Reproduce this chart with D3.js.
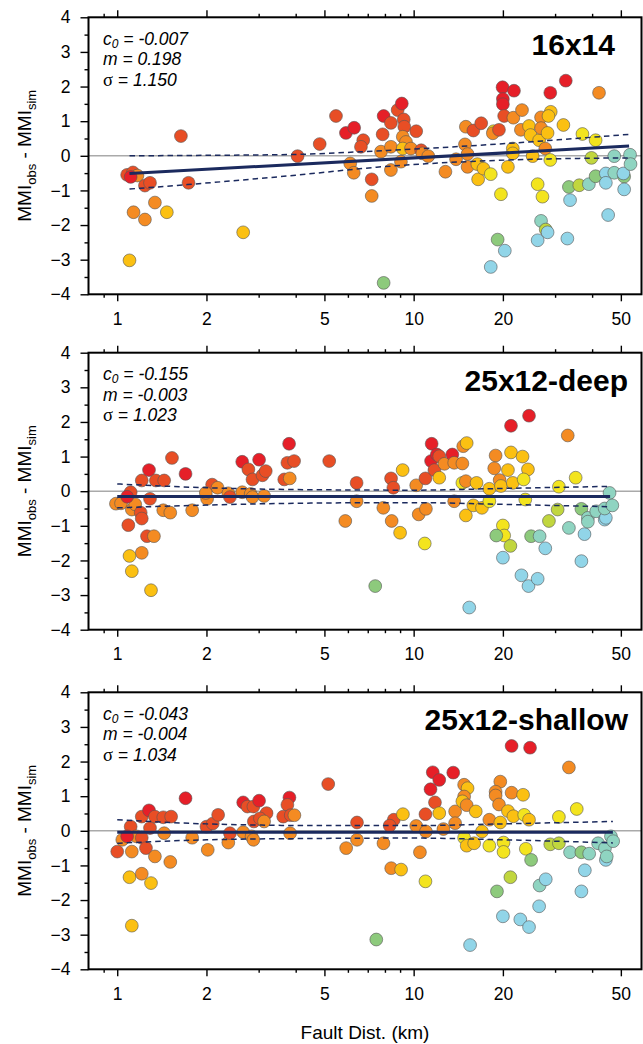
<!DOCTYPE html>
<html>
<head>
<meta charset="utf-8">
<script src="https://cdn.jsdelivr.net/npm/d3@7"></script>
<style>
  body { margin: 0; background: #fff; }
  svg { display: block; font-family: "Liberation Sans", Arial, Helvetica, sans-serif; }
</style>
</head>
<body>
<svg width="643" height="1044"></svg>
<script>
// tick values
const xMajor = [1, 2, 5, 10, 20, 50]
const xMinor = [0.9, 3, 4, 6, 7, 8, 9, 30, 40]
const yMajor = [-4, -3, -2, -1, 0, 1, 2, 3, 4]
const yMinor = [-3.5, -2.5, -1.5, -0.5, 0.5, 1.5, 2.5, 3.5]

const titles = ['16x14', '25x12-deep', '25x12-shallow']

// fit stats [c0, m, sigma]
const stats16x14 = ['-0.007', '0.198', '1.150']
const statsDeep = ['-0.155', '-0.003', '1.023']
const statsShallow = ['-0.043', '-0.004', '1.034']

// fit lines (dist, value)
const fit16x14 = [[1.1, -0.51], [53.3, 0.28]]
const fitDeep = [[1.0, -0.155], [46, -0.155]]
const fitShallow = [[1.0, -0.04], [47, -0.04]]

// confidence bands
const band16x14X = [1.1, 1.73, 4.0, 7.5, 21, 53.3]
const band16x14Up = [0.0, 0.01, 0.04, 0.14, 0.36, 0.62]
const band16x14Lo = [-0.96, -0.83, -0.56, -0.33, -0.12, -0.06]
const bandDeepX = [1.0, 2, 5, 10, 20, 46]
const bandDeepUp = [0.21, 0.10, 0.04, 0.03, 0.08, 0.14]
const bandDeepLo = [-0.48, -0.40, -0.34, -0.33, -0.38, -0.45]
const bandShallowX = [1.0, 2, 5, 10, 20, 47]
const bandShallowUp = [0.32, 0.20, 0.15, 0.15, 0.20, 0.27]
const bandShallowLo = [-0.36, -0.26, -0.22, -0.21, -0.26, -0.35]

// stations: [fault dist km, residual, colour class]
const pts16x14 = [
  [1.08,-0.55,1],[1.13,-0.48,1],[1.17,-0.57,2],[1.24,-0.86,1],[1.29,-0.78,1],[1.64,0.57,1],
  [1.74,-0.78,1],[1.34,-1.35,2],[1.135,-1.63,2],[1.24,-1.84,2],[1.47,-1.63,3],[1.10,-3.02,3],
  [2.66,-2.21,3],[4.06,-0.01,1],[4.82,0.34,1],[1.11,-0.61,0],
  [5.47,1.15,1],[5.91,0.66,0],[6.3,0.81,0],[6.76,0.45,1],[6.64,0.26,1],[6.11,-0.22,2],
  [6.28,-0.49,2],[7.22,-0.68,1],[7.22,-1.16,2],[7.92,1.15,0],[7.86,0.62,1],[7.76,0.12,2],
  [8.38,0.95,1],[8.83,1.32,1],[9.12,1.51,0],[9.26,1.05,1],[9.3,0.84,1],[8.38,0.26,2],
  [8.38,-0.41,2],[9.19,0.55,2],[9.42,0.40,2],[9.19,0.21,3],[9.06,-0.17,2],[9.79,0.21,2],
  [10.2,0.71,1],[10.6,0.16,1],[10.7,0.07,2],[11.2,-0.01,2],[12.8,-0.46,2],[13.9,-0.10,2],
  [15.0,0.84,2],[14.9,0.33,2],[15.2,0.05,2],[15.2,-0.32,2],[15.9,0.73,1],[16.9,0.94,1],
  [16.4,-0.24,3],[16.5,-0.68,3],[17.2,-0.37,3],[18.2,-0.53,4],[18.6,0.71,4],[18.5,0.65,2],
  [19.4,0.75,1],[19.95,1.98,0],[20.0,1.64,0],[20.0,1.49,0],[21.8,1.88,0],[20.2,1.15,1],
  [21.7,1.10,2],[23.2,1.32,2],[21.6,0.21,3],[21.6,0.07,3],[20.8,-0.32,3],[19.7,-1.11,4],
  [23.0,0.75,2],[24.5,0.86,3],[24.8,0.60,3],[26.5,0.45,3],[25.2,-0.01,3],[26.9,1.11,2],
  [26.9,0.80,2],[29.0,1.27,3],[28.5,1.15,3],[28.3,0.66,3],[27.8,0.21,2],[28.9,-0.12,4],
  [26.2,-0.82,4],[27.2,-1.18,4],[26.9,-1.88,7],[27.9,-2.13,5],[28.3,-2.21,8],[26.2,-2.44,8],
  [32.0,0.89,3],[32.6,2.17,0],[28.9,1.82,0],[33.0,-2.39,8],[33.4,-0.90,6],[33.7,-1.28,8],
  [36.2,-0.85,5],[37.1,0.63,4],[39.0,-0.82,7],[39.8,-0.06,5],[41.1,0.45,4],[42.2,1.82,2],
  [41.1,-0.59,6],[44.5,-0.51,8],[44.5,-0.78,8],[45.3,-1.71,8],[47.5,-0.01,7],[47.5,-0.49,7],
  [51.3,-0.60,6],[51.0,-0.51,8],[51.3,-0.97,8],[53.7,0.03,7],[53.9,-0.24,7],
  [19.2,-2.42,6],[20.3,-2.74,8],[18.2,-3.21,8],[7.92,-3.67,6]
]

const ptsDeep = [
  [0.99,-0.36,2],[1.03,-0.35,2],[1.11,-0.03,1],[1.09,-0.98,1],[1.12,-0.53,2],[1.15,-0.38,2],
  [1.21,0.31,1],[1.28,0.61,0],[1.29,-0.22,1],[1.20,-0.62,1],[1.21,-0.79,1],[1.26,-1.30,1],
  [1.33,-1.30,2],[1.21,-1.78,2],[1.10,-1.87,3],[1.12,-2.31,3],[1.30,-2.86,3],[1.35,0.31,1],
  [1.44,0.31,1],[1.53,0.96,1],[1.43,-0.55,2],[1.51,-0.62,2],[1.70,0.50,0],[1.79,-0.55,2],
  [2.01,-0.22,2],[2.09,0.19,1],[2.18,0.10,2],[1.99,-0.05,2],[2.37,-0.06,2],[2.40,-0.17,1],
  [2.64,0.85,0],[2.77,0.63,1],[2.86,0.34,1],[3.01,0.91,0],[3.09,0.46,1],[3.17,0.58,1],
  [2.64,-0.03,2],[2.82,-0.08,2],[2.86,-0.17,2],[3.13,-0.14,2],[3.66,0.34,1],[3.80,1.37,0],
  [3.75,0.82,1],[3.95,0.87,1],[3.82,0.37,2],[1.08,-0.16,0],
  [5.19,0.87,1],[5.88,-0.86,2],[6.42,0.24,1],[6.42,-0.29,2],[7.90,-0.48,2],[7.42,-2.74,6],
  [8.39,0.37,1],[8.54,0.10,1],[8.43,-0.86,2],[9.0,-1.2,3],[9.18,0.61,3],[10.2,0.17,2],
  [10.4,-0.67,2],[11.0,-0.51,2],[10.9,-1.51,4],[10.96,0.37,1],[11.5,1.37,0],[11.45,0.87,0],
  [11.97,1.06,0],[12.2,1.01,1],[11.75,0.61,1],[12.2,0.39,3],[12.7,0.79,2],[13.5,1.06,0],
  [13.7,0.82,2],[14.6,0.80,2],[14.7,1.30,2],[15.1,1.39,3],[13.7,-0.29,2],[14.6,0.24,4],
  [15.0,0.29,2],[16.3,0.24,3],[15.0,-0.70,3],[15.9,-0.41,3],[17.0,-0.48,3],[18.0,-0.29,4],
  [18.0,0.07,3],[15.4,-3.36,8],[18.9,1.03,2],[18.7,0.66,2],[19.5,0.32,2],[19.7,0.15,3],
  [20.8,0.61,3],[21.3,1.12,3],[21.3,1.89,0],[24.5,2.18,0],[21.6,0.24,3],[23.3,1.0,3],
  [24.3,0.63,3],[23.5,0.34,4],[23.8,-0.24,4],[20.0,-0.99,4],[20.2,-1.28,4],[19.0,-1.28,6],
  [21.2,-1.58,5],[20.0,-1.92,8],[24.9,-1.30,6],[26.6,-1.30,7],[27.8,-1.65,8],[23.1,-2.43,8],
  [24.4,-2.74,8],[26.2,-2.53,8],[28.6,-0.86,5],[30.9,0.13,4],[30.6,-0.53,5],[33.4,-1.06,7],
  [33.1,1.61,2],[35.2,0.39,4],[36.8,-0.51,6],[37.7,-1.24,8],[36.8,-2.02,8],[38.7,-0.77,7],
  [38.7,-0.88,7],[41.3,-0.58,7],[44.1,-0.82,8],[44.5,-0.77,8],[44.1,-0.50,7],[45.8,-0.05,7],
  [46.8,-0.41,7]
]

const ptsShallow = [
  [1.0,-0.60,1],[1.04,-0.26,2],[1.11,0.12,1],[1.12,-0.60,2],[1.16,-0.16,2],[1.21,0.41,1],
  [1.28,0.59,0],[1.29,0.08,1],[1.21,-0.20,1],[1.25,-0.50,1],[1.34,-0.74,2],[1.34,0.41,1],
  [1.43,0.39,1],[1.52,0.41,1],[1.44,-0.07,2],[1.51,-0.90,2],[1.10,-1.34,3],[1.21,-1.24,2],
  [1.30,-1.51,3],[1.12,-2.74,3],[1.08,-0.16,0],[1.70,0.94,0],[1.79,-0.20,2],[2.02,-0.55,2],
  [2.0,0.12,1],[2.10,0.21,1],[2.19,0.46,1],[2.37,-0.34,2],[2.40,-0.07,1],[2.66,0.82,0],
  [2.75,0.70,1],[2.88,0.70,1],[3.01,0.87,0],[3.19,0.51,1],[2.89,0.27,1],[3.03,0.36,1],
  [3.13,0.27,2],[2.66,-0.04,2],[2.84,-0.16,2],[2.88,-0.26,2],[3.81,0.96,0],[3.75,0.75,1],
  [3.63,0.41,1],[3.85,0.45,1],[3.96,0.45,2],[3.83,-0.07,2],
  [5.15,1.35,1],[5.92,-0.50,2],[6.44,0.24,1],[6.44,-0.26,2],[7.91,-0.36,2],[7.48,-3.14,6],
  [8.57,0.32,1],[8.3,0.15,1],[9.2,0.48,3],[8.4,-1.08,2],[9.07,-1.12,3],[10.2,0.14,2],
  [10.5,-0.62,2],[11.0,-0.02,2],[10.96,-1.46,4],[10.96,0.48,1],[11.6,1.69,0],[12.2,1.47,0],
  [11.4,1.20,0],[11.8,0.82,1],[12.2,0.51,3],[12.6,0.05,2],[13.6,1.68,0],[13.8,0.56,2],
  [13.8,0.22,2],[14.8,1.33,2],[15.2,1.23,3],[14.8,0.99,2],[14.6,0.85,3],[15.1,0.74,2],
  [16.2,0.56,3],[14.8,-0.20,4],[15.1,-0.43,3],[16.0,-0.36,3],[17.0,-0.02,3],[18.0,-0.43,4],
  [18.0,0.32,2],[15.5,-3.30,8],[19.6,1.42,2],[18.9,1.13,2],[18.9,1.02,2],[19.4,0.76,2],
  [21.4,1.10,2],[23.4,1.04,3],[20.8,0.57,3],[21.7,0.42,3],[19.6,0.24,3],[23.6,0.46,4],
  [24.5,0.32,3],[20.1,-0.34,4],[20.1,-0.61,4],[21.4,2.45,0],[24.7,2.40,0],[23.9,-0.52,4],
  [24.9,-0.84,6],[21.2,-1.34,5],[19.1,-1.75,6],[20.0,-2.47,8],[22.9,-2.56,8],[24.5,-2.78,8],
  [26.5,-2.18,8],[26.6,-1.58,7],[27.9,-1.40,8],[28.9,-0.39,5],[30.9,0.40,4],[30.9,-0.36,5],
  [33.4,1.83,2],[33.7,-0.62,7],[35.5,0.63,4],[36.8,-0.62,6],[37.8,-1.14,8],[36.8,-1.75,8],
  [39.1,-0.66,7],[41.9,-0.36,7],[44.2,-0.50,7],[44.5,-0.84,8],[44.8,-0.74,7],[46.3,-0.16,7],
  [47.1,-0.30,7]
]

const palette = ['#e61f28', '#e84e25', '#f48b22', '#fbc012', '#f3e41e', '#c1d63e', '#8dca7c', '#8fd4c1', '#91d5e8']
const navy = '#1b2a5e'

const panels = [
  {title: titles[0], pts: pts16x14, stats: stats16x14, fit: fit16x14,
   up: d3.zip(band16x14X, band16x14Up), lo: d3.zip(band16x14X, band16x14Lo), top: 17.3, titleX: 615},
  {title: titles[1], pts: ptsDeep, stats: statsDeep, fit: fitDeep,
   up: d3.zip(bandDeepX, bandDeepUp), lo: d3.zip(bandDeepX, bandDeepLo), top: 352.7, titleX: 628},
  {title: titles[2], pts: ptsShallow, stats: statsShallow, fit: fitShallow,
   up: d3.zip(bandShallowX, bandShallowUp), lo: d3.zip(bandShallowX, bandShallowLo), top: 692.3, titleX: 628},
]

const left = 88.5, right = 641.5, ph = 277
const font = '"Liberation Sans", Arial, Helvetica, sans-serif'

const svg = d3.select('svg')
const x = d3.scaleLog().domain([0.8, 58.7]).range([left, right])

const styleAxis = (g) => {
  g.select('.domain').remove()
  g.attr('font-size', 17.5).attr('font-family', font)
  g.selectAll('.tick line').attr('stroke', '#000').attr('stroke-width', 1.4)
  g.selectAll('.tick text').attr('fill', '#000')
}

const drawPanel = (p) => {
  const top = p.top
  const y = d3.scaleLinear().domain([-4, 4]).range([top + ph, top])
  const g = svg.append('g')

  g.append('line')
    .attr('x1', left).attr('x2', right)
    .attr('y1', y(0)).attr('y2', y(0))
    .attr('stroke', '#aaa').attr('stroke-width', 1.5)

  g.append('g').selectAll('circle')
    .data(p.pts)
    .join('circle')
    .attr('cx', d => x(d[0]))
    .attr('cy', d => y(d[1]))
    .attr('r', 6.4)
    .attr('fill', d => palette[d[2]])
    .attr('stroke', '#555')
    .attr('stroke-width', 0.6)

  const line = d3.line().x(d => x(d[0])).y(d => y(d[1])).curve(d3.curveMonotoneX)
  g.append('path').attr('d', line(p.up))
    .attr('fill', 'none').attr('stroke', navy).attr('stroke-width', 1.5).attr('stroke-dasharray', '5.5,4')
  g.append('path').attr('d', line(p.lo))
    .attr('fill', 'none').attr('stroke', navy).attr('stroke-width', 1.5).attr('stroke-dasharray', '5.5,4')
  g.append('path').attr('d', line(p.fit))
    .attr('fill', 'none').attr('stroke', navy).attr('stroke-width', 3)

  g.append('rect')
    .attr('x', left).attr('y', top)
    .attr('width', right - left).attr('height', ph)
    .attr('fill', 'none').attr('stroke', '#000').attr('stroke-width', 2)

  // axes
  g.append('g').attr('transform', `translate(0,${top + ph})`)
    .call(d3.axisBottom(x).tickValues(xMajor).tickFormat(d3.format('d')).tickSize(7).tickPadding(11))
    .call(styleAxis)
  g.append('g').attr('transform', `translate(0,${top + ph})`)
    .call(d3.axisBottom(x).tickValues(xMinor).tickFormat('').tickSize(3.5))
    .call(styleAxis)
  g.append('g').attr('transform', `translate(0,${top})`)
    .call(d3.axisTop(x).tickValues(xMajor).tickFormat('').tickSize(7))
    .call(styleAxis)
  g.append('g').attr('transform', `translate(0,${top})`)
    .call(d3.axisTop(x).tickValues(xMinor).tickFormat('').tickSize(3.5))
    .call(styleAxis)
  g.append('g').attr('transform', `translate(${left},0)`)
    .call(d3.axisLeft(y).tickValues(yMajor).tickFormat(d3.format('d')).tickSize(8).tickPadding(10))
    .call(styleAxis)
  g.append('g').attr('transform', `translate(${left},0)`)
    .call(d3.axisLeft(y).tickValues(yMinor).tickFormat('').tickSize(4))
    .call(styleAxis)

  // stats
  const t = g.append('g').attr('font-size', 17.5).attr('font-style', 'italic').attr('fill', '#000')
  const l1 = t.append('text').attr('x', 103).attr('y', top + 27.5)
  l1.append('tspan').text('c')
  l1.append('tspan').text('0').attr('font-size', 12).attr('dy', 3)
  l1.append('tspan').text(' = ' + p.stats[0]).attr('dy', -3)
  t.append('text').attr('x', 103).attr('y', top + 48).text('m = ' + p.stats[1])
  const l3 = t.append('text').attr('x', 103).attr('y', top + 68.5)
  l3.append('tspan').text('σ').attr('font-style', 'normal').attr('font-family', '"Liberation Serif", "Times New Roman", serif').attr('font-size', 18.5)
  l3.append('tspan').text(' = ' + p.stats[2])

  g.append('text')
    .attr('x', p.titleX).attr('y', top + 38)
    .attr('text-anchor', 'end')
    .attr('font-size', 30).attr('font-weight', 'bold')
    .text(p.title)

  // y label
  const yl = g.append('text')
    .attr('transform', `translate(31,${top + ph / 2}) rotate(-90)`)
    .attr('text-anchor', 'middle').attr('font-size', 19)
  yl.append('tspan').text('MMI')
  yl.append('tspan').text('obs').attr('font-size', 13).attr('dy', 5)
  yl.append('tspan').text(' - MMI').attr('dy', -5)
  yl.append('tspan').text('sim').attr('font-size', 13).attr('dy', 5)
}

panels.forEach(drawPanel)

svg.append('text')
  .attr('x', (left + right) / 2).attr('y', 1039)
  .attr('text-anchor', 'middle').attr('font-size', 19)
  .text('Fault Dist. (km)')
</script>
</body>
</html>
